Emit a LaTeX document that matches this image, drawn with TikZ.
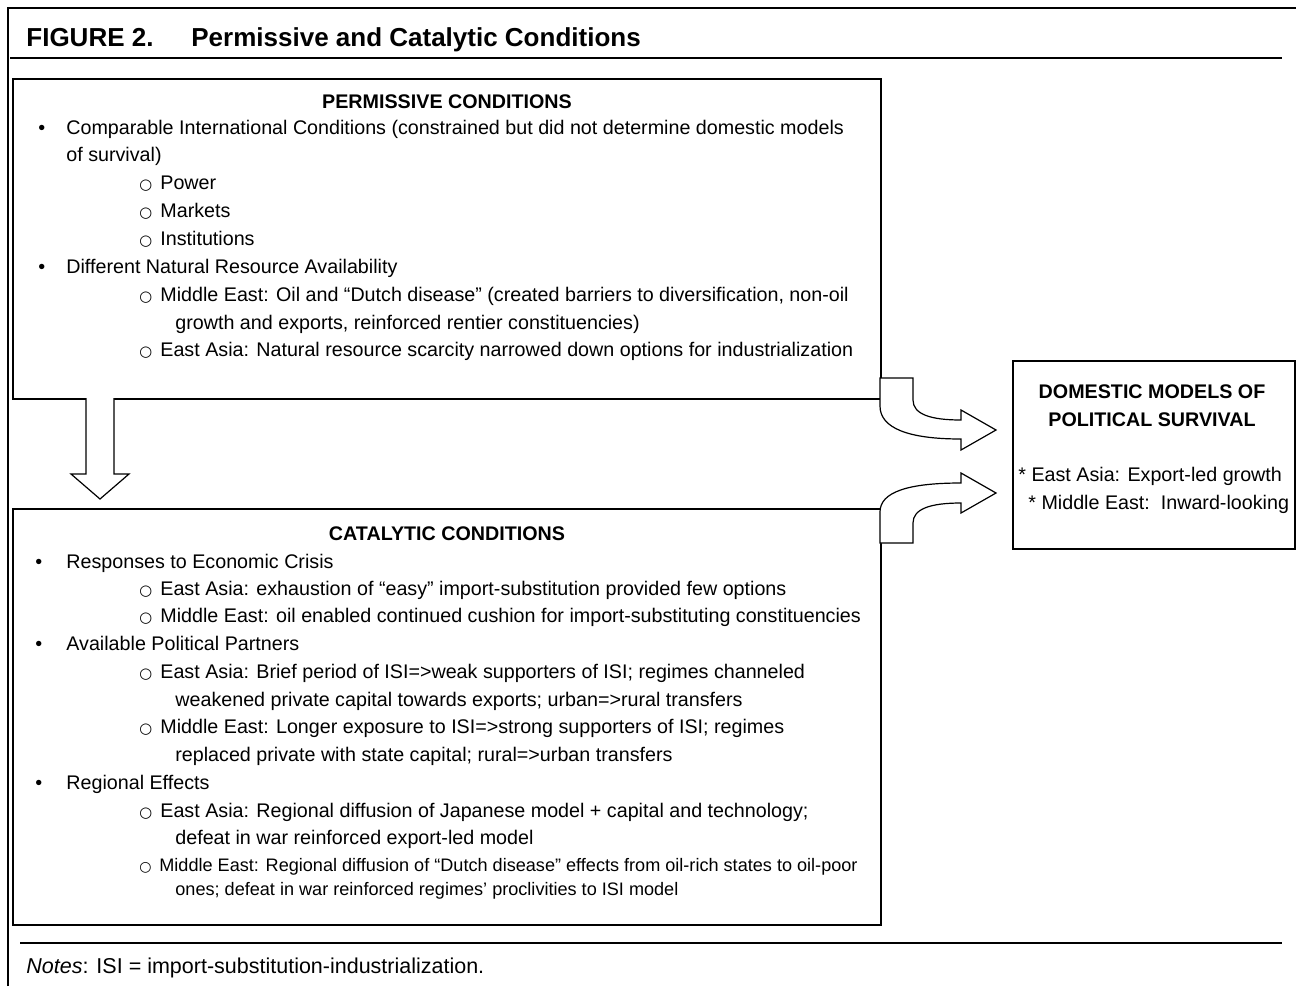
\documentclass[tikz,border=0pt]{standalone}
\usepackage{fontspec}
\setmainfont{Liberation Sans}
\newfontfamily\dejavu{DejaVu Sans}
\newcommand\subbul{\makebox[10.5pt][l]{\dejavu\fontsize{7.4}{8}\selectfont ○}}
\newcommand\topbul{\makebox[14pt][l]{\textbullet}}
\begin{document}
\begin{tikzpicture}[x=0.5pt,y=-0.5pt,
  box/.style={draw, line width=1pt, inner sep=0pt, anchor=north west},
  txt/.style={inner sep=0pt, anchor=base west, font=\fontsize{9.85}{12}\selectfont},
  smtxt/.style={inner sep=0pt, anchor=base west, font=\fontsize{9.05}{11}\selectfont},
  hd/.style={inner sep=0pt, anchor=base, font=\bfseries\fontsize{9.85}{12}\selectfont},
  blk/.style={draw, fill=white, line width=0.6pt, line join=miter}]
\useasboundingbox (0,0) rectangle (1296,986);
% frame and rules
\draw[line width=0.75pt] (8,986) -- (8,8) -- (1296,8);
\draw[line width=1pt] (10,58) -- (1282,58);
\draw[line width=1pt] (20,943) -- (1282,943);
% title
\node[inner sep=0pt, anchor=base west, font=\bfseries\fontsize{13}{15}\selectfont] (t1) at (26,46) {FIGURE 2.};
\node[inner sep=0pt, anchor=base west, font=\bfseries\fontsize{13}{15}\selectfont] (t2) at (191,46) {Permissive and Catalytic Conditions};
% boxes
\node[box, minimum width=434pt, minimum height=160pt] (perm) at (12,78) {};
\node[box, minimum width=434pt, minimum height=208pt] (cat) at (12,508) {};
\node[box, line width=0.75pt, minimum width=141pt, minimum height=94pt] (dom) at (1012,360) {};
% permissive text
\node[hd] (ph) at (447,108) {PERMISSIVE CONDITIONS};
\node[txt] (p1) at (38,134) {\topbul Comparable International Conditions (constrained but did not determine domestic models};
\node[txt] (p2) at (66,161) {of survival)};
\node[txt] (p3) at (139,189) {\subbul Power};
\node[txt] (p4) at (139,217) {\subbul Markets};
\node[txt] (p5) at (139,245) {\subbul Institutions};
\node[txt] (p6) at (38,273) {\topbul Different Natural Resource Availability};
\node[txt] (p7) at (139,301) {\subbul Middle East: Oil and “Dutch disease” (created barriers to diversification, non-oil};
\node[txt] (p8) at (175,329) {growth and exports, reinforced rentier constituencies)};
\node[txt] (p9) at (139,356) {\subbul East Asia: Natural resource scarcity narrowed down options for industrialization};
% catalytic text
\node[hd] (ch) at (447,540) {CATALYTIC CONDITIONS};
\node[txt] (c1) at (35,568) {\makebox[15.5pt][l]{\textbullet}Responses to Economic Crisis};
\node[txt] (c2) at (139,595) {\subbul East Asia: exhaustion of “easy” import-substitution provided few options};
\node[txt] (c3) at (139,622) {\subbul Middle East: oil enabled continued cushion for import-substituting constituencies};
\node[txt] (c4) at (35,650) {\makebox[15.5pt][l]{\textbullet}Available Political Partners};
\node[txt] (c5) at (139,678) {\subbul East Asia: Brief period of ISI=>weak supporters of ISI; regimes channeled};
\node[txt] (c6) at (175,706) {weakened private capital towards exports; urban=>rural transfers};
\node[txt] (c7) at (139,733) {\subbul Middle East: Longer exposure to ISI=>strong supporters of ISI; regimes};
\node[txt] (c8) at (175,761) {replaced private with state capital; rural=>urban transfers};
\node[txt] (c9) at (35,789) {\makebox[15.5pt][l]{\textbullet}Regional Effects};
\node[txt] (c10) at (139,817) {\subbul East Asia: Regional diffusion of Japanese model + capital and technology;};
\node[txt] (c11) at (175,844) {defeat in war reinforced export-led model};
\node[smtxt] (c12) at (139,871) {\makebox[10pt][l]{\dejavu\fontsize{7}{8}\selectfont ○}Middle East: Regional diffusion of “Dutch disease” effects from oil-rich states to oil-poor};
\node[smtxt] (c13) at (175,895) {ones; defeat in war reinforced regimes' proclivities to ISI model};
% domestic text
\node[hd] (dh1) at (1152,398) {DOMESTIC MODELS OF};
\node[hd] (dh2) at (1152,426) {POLITICAL SURVIVAL};
\node[txt] (d1) at (1018,481) {* East Asia: Export-led growth};
\node[txt] (d2) at (1028,509) {* Middle East:\ \ Inward-looking};
% notes
\node[inner sep=0pt, anchor=base west, font=\fontsize{10.75}{13}\selectfont] (notes) at (26,973) {\textit{Notes}: ISI = import-substitution-industrialization.};
% block arrows
\draw[blk] (86,398) -- (86,474) -- (71,474) -- (100,499) -- (129,474) -- (114,474) -- (114,398);
\draw[blk] (880,378) -- (913,378) -- (913,400) .. controls (913,414) and (930,420) .. (961,420)
  -- (961,410) -- (996,430) -- (961,450) -- (961,439) .. controls (908,439) and (880,428) .. (880,406) -- cycle;
\draw[blk] (880,543) -- (913,543) -- (913,523) .. controls (913,509) and (930,503) .. (961,503)
  -- (961,513) -- (996,493) -- (961,473) -- (961,483) .. controls (908,483) and (880,492) .. (880,512) -- cycle;
\end{tikzpicture}
\end{document}
